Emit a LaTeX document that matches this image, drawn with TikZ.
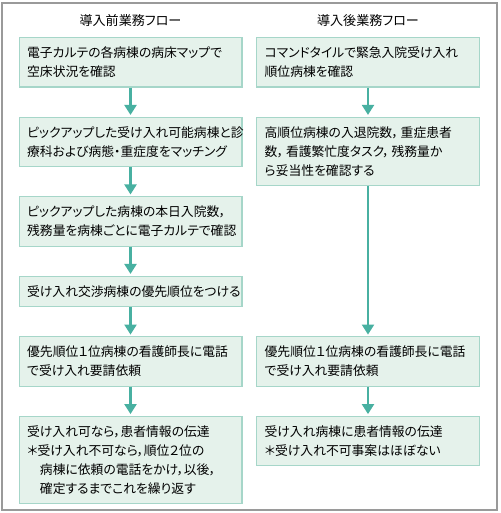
\documentclass[tikz,border=0pt]{standalone}
\usepackage{fontspec}
\usetikzlibrary{positioning, arrows.meta}
\newfontfamily\jpfont[RawFeature=+palt]{Noto Sans CJK JP}
\definecolor{cBox}{HTML}{E5F2EB}
\definecolor{cBoxB}{HTML}{A6D6C9}
\definecolor{cArrow}{HTML}{48B0A1}
\definecolor{cFrame}{HTML}{9A9A9A}
\tikzset{
  flowbox/.style   ={draw=cBoxB, fill=cBox, line width=0.8pt, align=left,
                     text width=155pt, inner xsep=6.1pt, inner ysep=7pt,
                     font=\jpfont\fontsize{9.6}{14.2}\selectfont},
  coltitle/.style  ={font=\jpfont\fontsize{9.8}{12}\selectfont, inner sep=0pt},
  flow/.style      ={-{Triangle[width=9pt, length=7.5pt]}, line width=1.6pt,
                     draw=cArrow, shorten >=1.2pt},
  outerframe/.style={draw=cFrame, line width=1.2pt},
}

\begin{document}
\begin{tikzpicture}[x=0.75pt, y=-0.75pt, node distance=21.75pt]
  \useasboundingbox (0,0) rectangle (500,513);
  \draw[outerframe] (2,3) rectangle (497,510);

  % ============================================================
  % COLUMN TITLES
  % ============================================================
  \node[coltitle] (ttlA) at (130.5,21) {導入前業務フロー};
  \node[coltitle] (ttlB) at (368,21)   {導入後業務フロー};

  % ============================================================
  % LEFT: before introduction (6 steps)
  % ============================================================
  \node[flowbox, anchor=north] (a1) at (130.5,37) {%
    電子カルテの各病棟の病床マップで\\空床状況を確認};
  \node[flowbox, below=of a1] (a2) {%
    ピックアップした受け入れ可能病棟と診\\療科および病態・重症度をマッチング};
  \node[flowbox, below=of a2] (a3) {%
    ピックアップした病棟の本日入院数，\\残務量を病棟ごとに電子カルテで確認};
  \node[flowbox, below=of a3] (a4) {%
    受け入れ交渉病棟の優先順位をつける};
  \node[flowbox, below=of a4] (a5) {%
    優先順位１位病棟の看護師長に電話\\で受け入れ要請依頼};
  \node[flowbox, below=of a5] (a6) {%
    受け入れ可なら，患者情報の伝達\\
    ＊受け入れ不可なら，順位２位の\\
    \hspace*{1em}病棟に依頼の電話をかけ，以後，\\
    \hspace*{1em}確定するまでこれを繰り返す};

  % ============================================================
  % RIGHT: after introduction (4 steps)
  % ============================================================
  \node[flowbox, anchor=north] (r1) at (368,37) {%
    コマンドタイルで緊急入院受け入れ\\順位病棟を確認};
  \node[flowbox, below=of r1] (r2) {%
    高順位病棟の入退院数，\,重症患者\\数，\,看護繁忙度タスク，\,残務量か\\ら妥当性を確認する};
  \node[flowbox, anchor=north] (r3) at (r2.south |- a5.north) {%
    優先順位１位病棟の看護師長に電話\\で受け入れ要請依頼};
  \node[flowbox, below=of r3] (r4) {%
    受け入れ病棟に患者情報の伝達\\＊受け入れ不可事案はほぼない};

  % ============================================================
  % ARROWS
  % ============================================================
  \draw[flow] (a1) -- (a2);
  \draw[flow] (a2) -- (a3);
  \draw[flow] (a3) -- (a4);
  \draw[flow] (a4) -- (a5);
  \draw[flow] (a5) -- (a6);

  \draw[flow] (r1) -- (r2);
  \draw[flow] (r2) -- (r3);
  \draw[flow] (r3) -- (r4);

\end{tikzpicture}
\end{document}
